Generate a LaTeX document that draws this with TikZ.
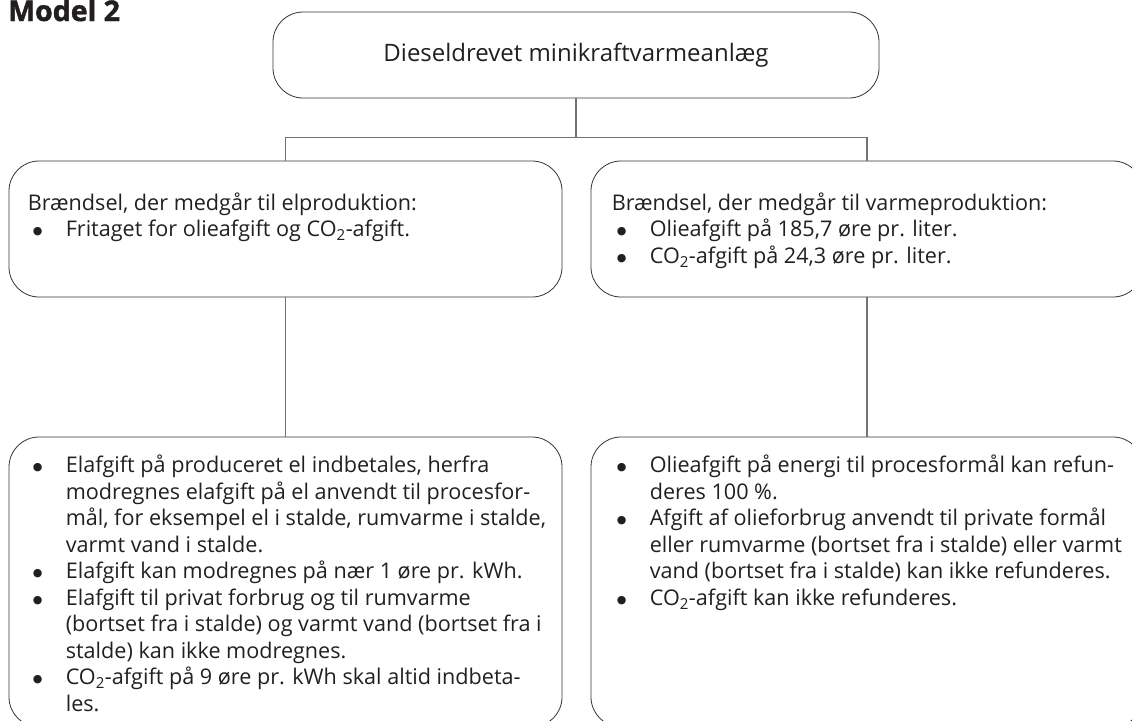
\documentclass[tikz,border=0pt]{standalone}
\usepackage{fontspec}
\setmainfont{Open Sans}
\newfontfamily\heavyfont{Open Sans}[FakeBold=1.5]
\newfontfamily\dotfont{DejaVu Sans}
\usetikzlibrary{positioning,calc}

\definecolor{ink}{HTML}{231F20}
\newcommand{\blt}{\makebox[38pt][l]{\hspace{5pt}\raisebox{2.2pt}{\dotfont\fontsize{11}{11}\selectfont ●}}}
\newcommand{\COtwo}{CO\textsubscript{2}}

\begin{document}
\begin{tikzpicture}[x=1pt, y=-1pt,
  box/.style={rectangle, draw=black!80, line width=0.8pt, rounded corners=30pt, inner sep=0pt},
  txt/.style={inner sep=0pt, text=ink, font=\fontsize{21.6}{26.5}\selectfont},
  link/.style={draw=black!55, line width=1.1pt}
  ]
  \useasboundingbox (0,0) rectangle (1132,720);

  \node[anchor=base west, inner sep=0pt, text=ink, font=\fontsize{28.5}{28.5}\selectfont\heavyfont\bfseries] (title) at (8,21) {Model 2};

  % boxes
  \node[box, minimum width=606pt, minimum height=86pt, text=ink, font=\fontsize{24}{26}\selectfont] (plant) at (576,55) {Dieseldrevet minikraftvarmeanlæg};
  \node[box, minimum width=553pt, minimum height=136pt] (elM) at (285.5,229) {};
  \node[box, minimum width=552pt, minimum height=136pt] (varM) at (867,229) {};
  \node[box, minimum width=553pt, minimum height=290pt] (elB) at (285.5,582) {};
  \node[box, minimum width=552pt, minimum height=290pt] (varB) at (867,582) {};

  % texts
  \node[txt, below right=31pt and 19pt of elM.north west] (elMtxt) {\begin{tabular}{@{}l@{}l@{}}
    \multicolumn{2}{@{}l@{}}{Brændsel, der medgår til elproduktion:}\\
    \blt & Fritaget for olieafgift og \COtwo-afgift.
  \end{tabular}};
  \node[txt, below right=31pt and 21pt of varM.north west] (varMtxt) {\begin{tabular}{@{}l@{}l@{}}
    \multicolumn{2}{@{}l@{}}{Brændsel, der medgår til varmeproduktion:}\\
    \blt & Olieafgift på 185,7 øre pr. liter.\\
    \blt & \COtwo-afgift på 24,3 øre pr. liter.
  \end{tabular}};
  \node[txt, below right=17.5pt and 19pt of elB.north west] (elBtxt) {\begin{tabular}{@{}l@{}l@{}}
    \blt & Elafgift på produceret el indbetales, herfra\\
         & modregnes elafgift på el anvendt til procesfor-\\
         & mål, for eksempel el i stalde, rumvarme i stalde,\\
         & varmt vand i stalde.\\
    \blt & Elafgift kan modregnes på nær 1 øre pr. kWh.\\
    \blt & Elafgift til privat forbrug og til rumvarme\\
         & (bortset fra i stalde) og varmt vand (bortset fra i\\
         & stalde) kan ikke modregnes.\\
    \blt & \COtwo-afgift på 9 øre pr. kWh skal altid indbeta-\\
         & les.
  \end{tabular}};
  \node[txt, below right=17.5pt and 21pt of varB.north west] (varBtxt) {\begin{tabular}{@{}l@{}l@{}}
    \blt & Olieafgift på energi til procesformål kan refun-\\
         & deres 100 \%.\\
    \blt & Afgift af olieforbrug anvendt til private formål\\
         & eller rumvarme (bortset fra i stalde) eller varmt\\
         & vand (bortset fra i stalde) kan ikke refunderes.\\
    \blt & \COtwo-afgift kan ikke refunderes.
  \end{tabular}};

  % connectors
  \coordinate (fork) at ($(plant.south)+(0,39)$);
  \draw[link] (plant.south) -- (fork);
  \draw[link] (elM.north) |- (fork) -| (varM.north);
  \draw[link] (elM.south) -- (elB.north);
  \draw[link] (varM.south) -- (varB.north);
\end{tikzpicture}
\end{document}
